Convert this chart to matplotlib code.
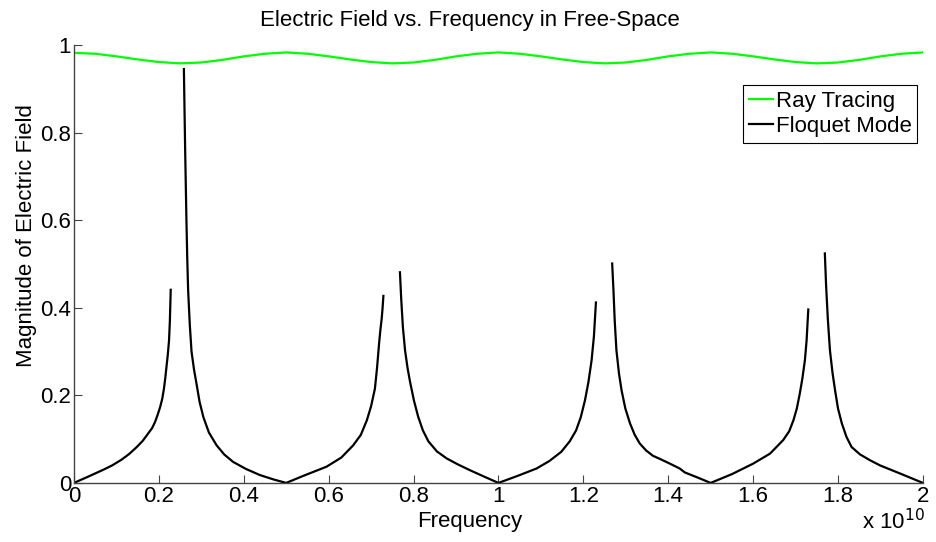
import numpy as np
import matplotlib
matplotlib.use("Agg")
import matplotlib.pyplot as plt
from matplotlib.ticker import FuncFormatter

plt.rcParams['font.family'] = ['Liberation Sans', 'DejaVu Sans']

# frequency axis values are in units of 1e10 Hz
ray_freq = [0.00, 0.05, 0.10, 0.15, 0.20, 0.25, 0.30, 0.35, 0.40, 0.45,
            0.50, 0.55, 0.60, 0.65, 0.70, 0.75, 0.80, 0.85, 0.90, 0.95,
            1.00, 1.05, 1.10, 1.15, 1.20, 1.25, 1.30, 1.35, 1.40, 1.45,
            1.50, 1.55, 1.60, 1.65, 1.70, 1.75, 1.80, 1.85, 1.90, 1.95, 2.00]
ray_field = [0.982, 0.980, 0.974, 0.967, 0.961, 0.958, 0.960, 0.966, 0.974, 0.980,
             0.983, 0.980, 0.974, 0.967, 0.961, 0.958, 0.960, 0.966, 0.974, 0.980,
             0.983, 0.980, 0.974, 0.967, 0.961, 0.958, 0.960, 0.966, 0.974, 0.980,
             0.983, 0.980, 0.974, 0.967, 0.961, 0.958, 0.960, 0.966, 0.974, 0.980, 0.983]

nan = np.nan
floquet_freq = [
    # 0 -> 0.5
    0.000, 0.035, 0.069, 0.090, 0.112, 0.130, 0.148, 0.162, 0.175, 0.184, 0.191,
    0.197, 0.203, 0.208, 0.212, 0.215, 0.218, 0.221, 0.224, 0.226, 0.228, nan,
    0.259, 0.262, 0.265, 0.267, 0.269, 0.273, 0.277, 0.283, 0.289, 0.296, 0.305,
    0.318, 0.336, 0.354, 0.375, 0.405, 0.438, 0.470, 0.500,
    # 0.5 -> 1.0
    0.540, 0.595, 0.630, 0.658, 0.676, 0.690, 0.700, 0.709, 0.714, 0.719, 0.722,
    0.725, 0.727, 0.729, nan,
    0.768, 0.771, 0.775, 0.780, 0.786, 0.792, 0.801, 0.811, 0.822, 0.835, 0.855,
    0.878, 0.905, 0.933, 0.965, 1.000,
    # 1.0 -> 1.5
    1.045, 1.090, 1.120, 1.148, 1.168, 1.183, 1.194, 1.204, 1.212, 1.2195, 1.225,
    1.2297, nan,
    1.268, 1.271, 1.274, 1.278, 1.284, 1.290, 1.299, 1.310, 1.321, 1.333, 1.348,
    1.364, 1.380, 1.404, 1.427, 1.431, 1.439, 1.470, 1.500,
    # 1.5 -> 2.0
    1.550, 1.600, 1.640, 1.671, 1.685, 1.695, 1.703, 1.710, 1.716, 1.722, 1.726,
    1.730, nan,
    1.769, 1.772, 1.776, 1.781, 1.787, 1.793, 1.800, 1.809, 1.820, 1.832, 1.852,
    1.875, 1.899, 1.950, 2.000]
floquet_field = [
    0.000, 0.015, 0.030, 0.040, 0.053, 0.066, 0.082, 0.096, 0.113, 0.125, 0.139,
    0.155, 0.173, 0.192, 0.215, 0.238, 0.265, 0.292, 0.325, 0.370, 0.441, nan,
    0.945, 0.760, 0.600, 0.510, 0.440, 0.360, 0.300, 0.258, 0.225, 0.185, 0.150,
    0.115, 0.086, 0.065, 0.048, 0.032, 0.018, 0.008, 0.000,
    0.016, 0.037, 0.058, 0.086, 0.110, 0.143, 0.175, 0.215, 0.262, 0.320, 0.350,
    0.375, 0.398, 0.427, nan,
    0.481, 0.420, 0.355, 0.303, 0.262, 0.230, 0.188, 0.151, 0.120, 0.095, 0.072,
    0.056, 0.042, 0.029, 0.015, 0.000,
    0.016, 0.033, 0.050, 0.071, 0.095, 0.120, 0.150, 0.189, 0.230, 0.280, 0.335,
    0.412, nan,
    0.501, 0.440, 0.370, 0.303, 0.250, 0.212, 0.170, 0.136, 0.110, 0.090, 0.074,
    0.062, 0.055, 0.044, 0.033, 0.030, 0.024, 0.012, 0.000,
    0.020, 0.044, 0.067, 0.098, 0.118, 0.143, 0.170, 0.204, 0.238, 0.280, 0.325,
    0.396, nan,
    0.524, 0.450, 0.375, 0.303, 0.252, 0.212, 0.170, 0.136, 0.105, 0.082, 0.065,
    0.052, 0.040, 0.020, 0.000]

xticks = [0, 0.2, 0.4, 0.6, 0.8, 1, 1.2, 1.4, 1.6, 1.8, 2]
yticks = [0, 0.2, 0.4, 0.6, 0.8, 1]

fig = plt.figure(figsize=(9.36, 5.42), dpi=100)
ax = fig.add_axes([0.079, 0.109, 0.907, 0.808])

ax.plot(ray_freq, ray_field, color='#00ff00', linewidth=1.6, label='Ray Tracing')
ax.plot(floquet_freq, floquet_field, color='black', linewidth=1.6, label='Floquet Mode')

ax.set_xlim(0, 2)
ax.set_ylim(0, 1)
ax.set_xticks(xticks)
ax.set_yticks(yticks)
fmt = FuncFormatter(lambda v, p: '%g' % v)
ax.xaxis.set_major_formatter(fmt)
ax.yaxis.set_major_formatter(fmt)

for s in ['top', 'right']:
    ax.spines[s].set_visible(False)
for s in ['left', 'bottom']:
    ax.spines[s].set_color('#444444')
    ax.spines[s].set_linewidth(1.0)
ax.tick_params(direction='in', length=6, width=0.8, color='#444444',
               labelsize=16, labelcolor='black', pad=2)

ax.set_title('Electric Field vs. Frequency in Free-Space', fontsize=16, pad=14, x=0.466)
ax.set_xlabel('Frequency', fontsize=16, labelpad=3)
ax.xaxis.set_label_coords(0.466, -0.065)
ax.xaxis.label.set_va('top')
ax.set_ylabel('Magnitude of Electric Field', fontsize=16)
ax.yaxis.set_label_coords(-0.043, 0.564)

fig.text(0.988, 0.024, r'x 10$^{10}$', ha='right', va='baseline', fontsize=16)

leg = ax.legend(loc='upper right', bbox_to_anchor=(0.993, 0.908), fontsize=16,
                frameon=True, fancybox=False, framealpha=1, edgecolor='black',
                handlelength=1.1, handletextpad=0.1, borderpad=0.25,
                labelspacing=0.2, borderaxespad=0)
leg.get_frame().set_linewidth(0.8)

fig.savefig('out.png', dpi=100)
